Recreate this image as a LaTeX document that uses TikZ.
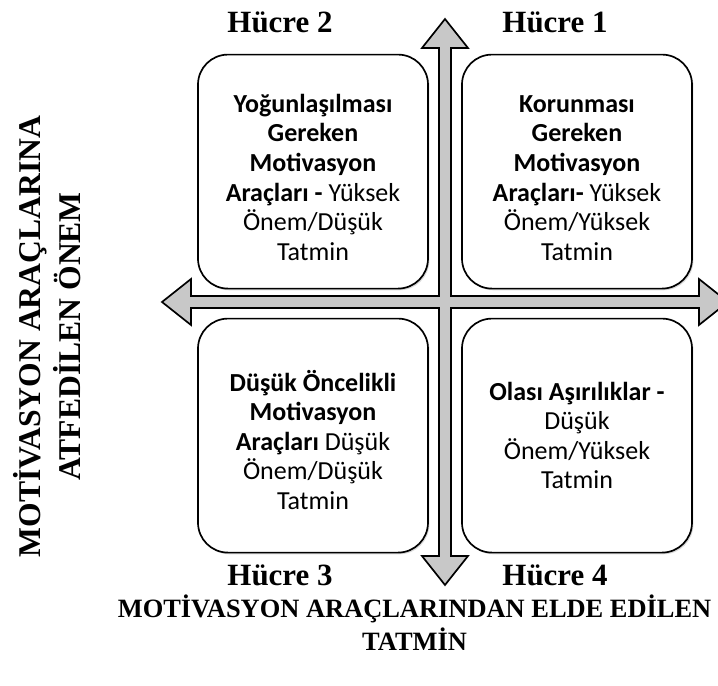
\documentclass[tikz,border=0pt]{standalone}
\usepackage{fontspec}
\setmainfont{Liberation Serif}
\newfontfamily\cellfont{Carlito}
\definecolor{arrowgray}{HTML}{C8C8C8}
\usetikzlibrary{shadows}
\newcommand{\celltop}{\rule{0pt}{21pt}}

\begin{document}
\begin{tikzpicture}[
  cell/.style={draw, line width=1.2pt, fill=white, rounded corners=0.75cm,
    minimum width=5.75cm, minimum height=5.85cm, align=center,
    font=\cellfont\fontsize{18.5}{21}\selectfont,
    drop shadow={shadow xshift=1pt, shadow yshift=-1.2pt, opacity=0.3}},
  head/.style={font=\bfseries\fontsize{22}{26}\selectfont},
  axis/.style={font=\bfseries\fontsize{#1}{\dimexpr#1pt*5/4\relax}\selectfont, align=center},
  cross/.style={draw, line width=1.2pt, fill=arrowgray, line join=miter}
]
  \useasboundingbox (-11.125,-9.6) rectangle (6.825,7.55);

  % Axes
  \draw[cross] (0,7.075) -- (0.575,6.35) -- (0.15,6.35) -- (0.15,0.15)
    -- (6.35,0.15) -- (6.35,0.575) -- (7.075,0) -- (6.35,-0.575) -- (6.35,-0.15)
    -- (0.15,-0.15) -- (0.15,-6.35) -- (0.575,-6.35) -- (0,-7.075) -- (-0.575,-6.35)
    -- (-0.15,-6.35) -- (-0.15,-0.15) -- (-6.35,-0.15) -- (-6.35,-0.575)
    -- (-7.075,0) -- (-6.35,0.575) -- (-6.35,0.15) -- (-0.15,0.15)
    -- (-0.15,6.35) -- (-0.575,6.35) -- cycle;

  % Cells
  \node[cell] (c2) at (-3.3,3.26) {\celltop\textbf{Yoğunlaşılması}\\\textbf{Gereken}\\\textbf{Motivasyon}\\\textbf{Araçları -} Yüksek\\Önem/Düşük\\Tatmin};
  \node[cell] (c1) at (3.3,3.26) {\celltop\textbf{Korunması}\\\textbf{Gereken}\\\textbf{Motivasyon}\\\textbf{Araçları-} Yüksek\\Önem/Yüksek\\Tatmin};
  \node[cell] (c3) at (-3.3,-3.34) {\celltop\textbf{Düşük Öncelikli}\\\textbf{Motivasyon}\\\textbf{Araçları} Düşük\\Önem/Düşük\\Tatmin};
  \node[cell] (c4) at (3.3,-3.34) {\textbf{Olası Aşırılıklar -}\\Düşük\\Önem/Yüksek\\Tatmin};

  % Cell titles
  \node[head] (h2) at (-4.125,7.0) {Hücre 2};
  \node[head] (h1) at (2.75,7.0) {Hücre 1};
  \node[head] (h3) at (-4.125,-6.825) {Hücre 3};
  \node[head] (h4) at (2.75,-6.825) {Hücre 4};

  % Axis titles
  \node[axis=22.5, rotate=90] (imp) at (-9.95,-0.86) {MOTİVASYON ARAÇLARINA\\ATFEDİLEN ÖNEM};
  \node[axis=18.8] (sat) at (-0.76,-8.025) {MOTİVASYON ARAÇLARINDAN ELDE EDİLEN\\TATMİN};
\end{tikzpicture}
\end{document}
